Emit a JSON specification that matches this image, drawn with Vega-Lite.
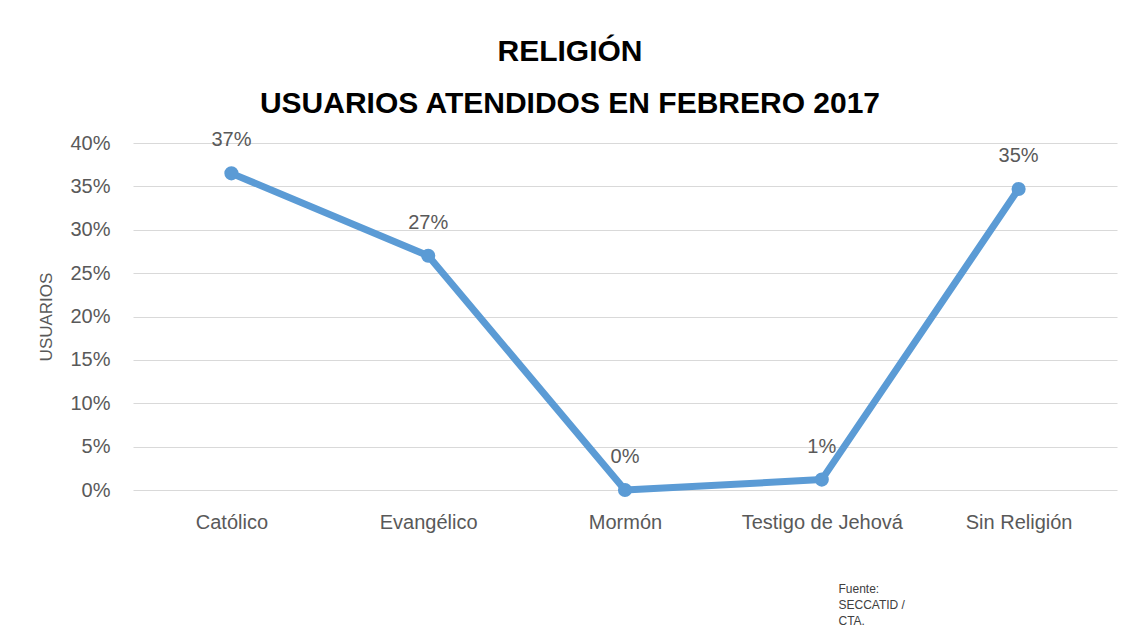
{
  "$schema": "https://vega.github.io/schema/vega-lite/v6.json",
  "autosize": "none",
  "width": 984,
  "height": 347,
  "padding": {"left": 133, "top": 143, "right": 13, "bottom": 144},
  "background": "white",
  "config": {
    "view": {"stroke": null},
    "font": "Liberation Sans"
  },
  "title": {
    "text": ["RELIGIÓN", "USUARIOS ATENDIDOS EN FEBRERO 2017"],
    "anchor": "middle",
    "frame": "group",
    "dx": -55,
    "offset": 11,
    "fontSize": 30,
    "lineHeight": 52,
    "font": "Liberation Sans",
    "fontWeight": "bold",
    "color": "#000000"
  },
  "data": {
    "values": [
      {"religion": "Católico", "pct": 0.365},
      {"religion": "Evangélico", "pct": 0.27},
      {"religion": "Mormón", "pct": 0.0},
      {"religion": "Testigo de Jehová", "pct": 0.012},
      {"religion": "Sin Religión", "pct": 0.347}
    ]
  },
  "encoding": {
    "x": {
      "field": "religion",
      "type": "nominal",
      "sort": null,
      "scale": {"paddingInner": 0, "paddingOuter": 0},
      "axis": {
        "title": ["Fuente:", "SECCATID /", "CTA."],
        "titleX": 705,
        "titleY": 93,
        "titleAlign": "left",
        "titleBaseline": "top",
        "titleAnchor": null,
        "titleFontSize": 12,
        "titleFontWeight": "normal",
        "titleColor": "#404040",
        "titleLineHeight": 16,
        "labelAngle": 0,
        "labelFontSize": 20,
        "labelColor": "#595959",
        "labelPadding": 22,
        "ticks": false,
        "tickSize": 0,
        "domain": false,
        "grid": false
      }
    },
    "y": {
      "field": "pct",
      "type": "quantitative",
      "scale": {"domain": [0, 0.4], "nice": false},
      "axis": {
        "title": "USUARIOS",
        "titleFontSize": 17,
        "titleFontWeight": "normal",
        "titleColor": "#595959",
        "titlePadding": 14,
        "values": [0, 0.05, 0.1, 0.15, 0.2, 0.25, 0.3, 0.35, 0.4],
        "format": ".0%",
        "labelFontSize": 20,
        "labelColor": "#595959",
        "labelPadding": 23,
        "ticks": false,
        "tickSize": 0,
        "domain": false,
        "grid": true,
        "gridColor": "#d9d9d9",
        "gridWidth": 1
      }
    }
  },
  "layer": [
    {
      "mark": {"type": "line", "color": "#5B9BD5", "strokeWidth": 7, "strokeCap": "round", "strokeJoin": "round"}
    },
    {
      "mark": {"type": "point", "filled": true, "opacity": 1, "color": "#5B9BD5", "size": 200}
    },
    {
      "mark": {"type": "text", "baseline": "alphabetic", "dy": -27, "fontSize": 20, "color": "#595959"},
      "encoding": {
        "text": {"field": "pct", "type": "quantitative", "format": ".0%"}
      }
    }
  ]
}
